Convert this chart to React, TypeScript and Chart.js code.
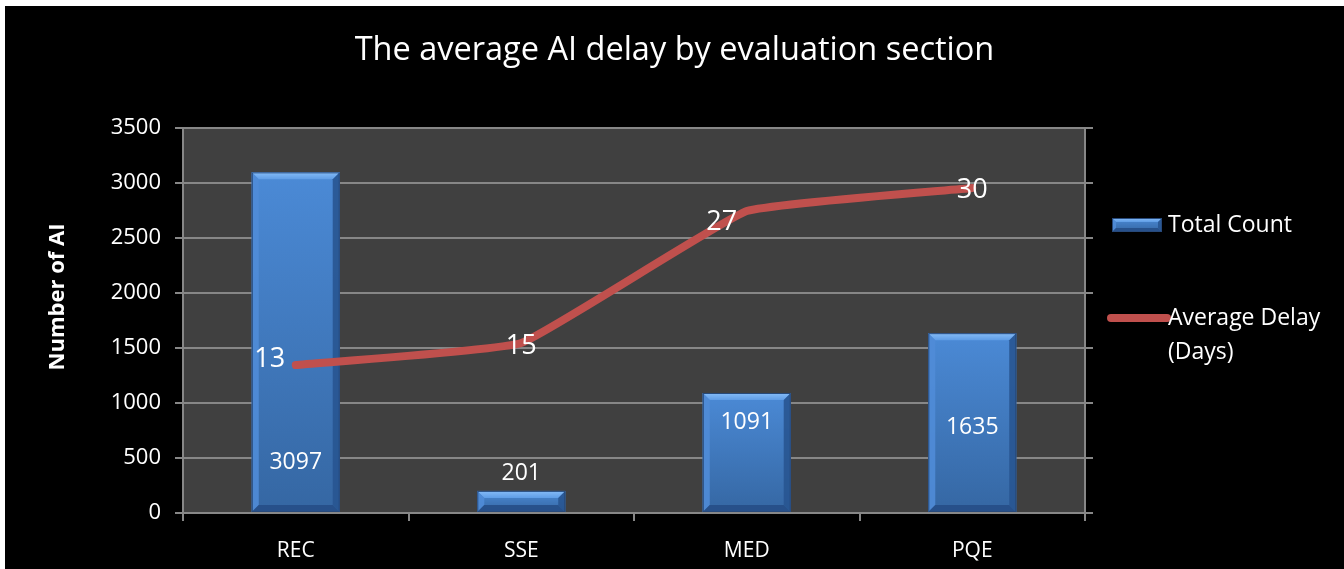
import { useEffect, useRef } from "react";
import { Chart, registerables } from "chart.js";
Chart.register(...registerables);

const categories = ["REC", "SSE", "MED", "PQE"];
const totalCount = [3097, 201, 1091, 1635];
const averageDelay = [13.45, 15.45, 27.45, 29.55];
const seriesNames = ["Total Count", "Average Delay (Days)"];
const titleText = "The average AI delay by evaluation section";
const yAxisTitle = "Number of AI";
const countAxis = { min: 0, max: 3500, step: 500 };
const delayAxis = { min: 0, max: 35, step: 5 };

// style: label offsets (px)
const barLabelOffsets = [-50, -39, -90, -85];
const lineLabelOffsets = [
  [-26, -6],
  [0, 3],
  [-25, 11],
  [0, 2],
];

const FONT = "'Open Sans', 'Noto Sans', sans-serif";
const GRID = "#878787";

function drawBevelBar(ctx: CanvasRenderingContext2D, l: number, r: number, t: number, bot: number, bv: number) {
  if (![l, r, t, bot].every(Number.isFinite)) return;
  const b = Math.max(1, Math.min(bv, (bot - t) / 2, (r - l) / 2));
  const face = ctx.createLinearGradient(0, t, 0, bot);
  face.addColorStop(0, "#4b8ad6");
  face.addColorStop(1, "#3567a3");
  ctx.save();
  ctx.fillStyle = face;
  ctx.fillRect(l, t, r - l, bot - t);
  const tg = ctx.createLinearGradient(0, t, 0, t + b);
  tg.addColorStop(0, "#86bcf7");
  tg.addColorStop(1, "#5f9de6");
  ctx.fillStyle = tg;
  ctx.beginPath();
  ctx.moveTo(l, t);
  ctx.lineTo(r, t);
  ctx.lineTo(r - b, t + b);
  ctx.lineTo(l + b, t + b);
  ctx.closePath();
  ctx.fill();
  ctx.fillStyle = "rgba(80,140,215,0.9)";
  ctx.beginPath();
  ctx.moveTo(l, t);
  ctx.lineTo(l + b, t + b);
  ctx.lineTo(l + b, bot - b);
  ctx.lineTo(l, bot);
  ctx.closePath();
  ctx.fill();
  ctx.fillStyle = "rgba(40,85,145,0.9)";
  ctx.beginPath();
  ctx.moveTo(r, t);
  ctx.lineTo(r - b, t + b);
  ctx.lineTo(r - b, bot - b);
  ctx.lineTo(r, bot);
  ctx.closePath();
  ctx.fill();
  ctx.fillStyle = "rgba(38,78,135,0.9)";
  ctx.beginPath();
  ctx.moveTo(l, bot);
  ctx.lineTo(l + b, bot - b);
  ctx.lineTo(r - b, bot - b);
  ctx.lineTo(r, bot);
  ctx.closePath();
  ctx.fill();
  ctx.strokeStyle = "#27497a";
  ctx.lineWidth = 1;
  ctx.strokeRect(l + 0.5, t + 0.5, r - l - 1, bot - t - 1);
  ctx.restore();
}

const plotBgPlugin = {
  id: "plotBg",
  beforeDraw(chart: any) {
    const { ctx, chartArea, width, height } = chart;
    ctx.save();
    ctx.fillStyle = "#000000";
    ctx.fillRect(0, 0, width, height);
    ctx.fillStyle = "#404040";
    ctx.fillRect(chartArea.left, chartArea.top, chartArea.right - chartArea.left, chartArea.bottom - chartArea.top);
    ctx.restore();
  },
};

const bevelPlugin = {
  id: "bevel",
  afterDatasetDraw(chart: any, args: any) {
    if (args.index !== 1) return;
    const meta = chart.getDatasetMeta(1);
    const ctx = chart.ctx;
    meta.data.forEach((el: any) => {
      const { x, y, base, width } = el.getProps(["x", "y", "base", "width"], true);
      drawBevelBar(ctx, x - width / 2, x + width / 2, y, base, 7);
    });
  },
};

const labelsPlugin = {
  id: "valueLabels",
  afterDatasetsDraw(chart: any) {
    const ctx = chart.ctx;
    ctx.save();
    ctx.fillStyle = "#ffffff";
    ctx.textAlign = "center";
    ctx.textBaseline = "middle";
    ctx.font = `23px ${FONT}`;
    chart.getDatasetMeta(1).data.forEach((el: any, i: number) => {
      const { x, base } = el.getProps(["x", "base"], true);
      ctx.fillText(String(totalCount[i]), x, base + barLabelOffsets[i]);
    });
    ctx.font = `27px ${FONT}`;
    chart.getDatasetMeta(0).data.forEach((el: any, i: number) => {
      const { x, y } = el.getProps(["x", "y"], true);
      ctx.fillText(String(Math.round(averageDelay[i])), x + lineLabelOffsets[i][0], y + lineLabelOffsets[i][1]);
    });
    ctx.restore();
  },
};

const legendPlugin = {
  id: "customLegend",
  afterDraw(chart: any) {
    const ctx = chart.ctx;
    const x0 = chart.chartArea.right + 27;
    ctx.save();
    drawBevelBar(ctx, x0, x0 + 50, 212, 226, 4);
    ctx.strokeStyle = "#C0504D";
    ctx.lineWidth = 8;
    ctx.lineCap = "round";
    ctx.beginPath();
    ctx.moveTo(x0 - 1, 312);
    ctx.lineTo(x0 + 55, 312);
    ctx.stroke();
    ctx.fillStyle = "#ffffff";
    ctx.font = `23px ${FONT}`;
    ctx.textAlign = "left";
    ctx.textBaseline = "middle";
    ctx.fillText(seriesNames[0], x0 + 56, 219);
    const parts = seriesNames[1].split(" (");
    ctx.fillText(parts[0], x0 + 56, 312);
    ctx.fillText("(" + parts[1], x0 + 56, 346);
    // y axis title
    ctx.font = `bold 22px ${FONT}`;
    ctx.textAlign = "center";
    ctx.translate(53, 291);
    ctx.rotate(-Math.PI / 2);
    ctx.fillText(yAxisTitle, 0, 0);
    ctx.restore();
  },
};

export default function App() {
  const ref = useRef<HTMLCanvasElement | null>(null);
  useEffect(() => {
    if (!ref.current) return;
    Chart.defaults.font.family = FONT;
    Chart.defaults.color = "#ffffff";
    const chart = new Chart(ref.current, {
      data: {
        labels: categories,
        datasets: [
          {
            type: "line",
            label: seriesNames[1],
            data: averageDelay,
            yAxisID: "y2",
            borderColor: "#C0504D",
            borderWidth: 8,
            pointRadius: 0,
            tension: 0.1,
            borderCapStyle: "round",
            borderJoinStyle: "round",
            order: 0,
          },
          {
            type: "bar",
            label: seriesNames[0],
            data: totalCount,
            yAxisID: "y",
            backgroundColor: "#4a84cc",
            categoryPercentage: 1,
            barPercentage: 0.39,
            order: 1,
          },
        ],
      } as any,
      options: {
        animation: false,
        responsive: true,
        maintainAspectRatio: false,
        layout: { padding: 0 },
        plugins: {
          legend: { display: false },
          tooltip: { enabled: false },
          title: {
            display: true,
            text: titleText,
            color: "#ffffff",
            font: { family: FONT, size: 32.5, weight: "normal", lineHeight: 1.2 },
            padding: { top: 25, bottom: 58 },
          },
        },
        scales: {
          x: {
            grid: { display: true, drawOnChartArea: false, drawTicks: true, tickLength: 8, color: GRID, lineWidth: 2, offset: true },
            border: { display: true, color: GRID, width: 2 },
            ticks: { color: "#ffffff", font: { family: FONT, size: 21 }, padding: 17 },
            afterFit: (s: any) => {
              s.height = 56;
            },
          },
          y: {
            position: "left",
            min: countAxis.min,
            max: countAxis.max,
            ticks: {
              stepSize: countAxis.step,
              color: "#ffffff",
              font: { family: FONT, size: 22 },
              padding: 14,
              callback: (v: any) => String(v),
            },
            grid: { color: GRID, lineWidth: 2, tickLength: 8, drawTicks: true },
            border: { display: true, color: GRID, width: 2 },
            title: { display: false, text: yAxisTitle },
            afterFit: (s: any) => {
              s.width = 178;
            },
          },
          y2: {
            position: "right",
            min: delayAxis.min,
            max: delayAxis.max,
            ticks: { stepSize: delayAxis.step, display: false },
            grid: { drawOnChartArea: false, color: GRID, lineWidth: 2, tickLength: 8, drawTicks: true },
            border: { display: true, color: GRID, width: 2 },
            afterFit: (s: any) => {
              s.width = 259;
            },
          },
        },
      } as any,
      plugins: [plotBgPlugin, bevelPlugin, labelsPlugin, legendPlugin],
    });
    return () => chart.destroy();
  }, []);
  return (
    <div style={{ position: "fixed", left: 5, top: 6, width: 1339, height: 563, background: "#000" }}>
      <canvas ref={ref} />
    </div>
  );
}
